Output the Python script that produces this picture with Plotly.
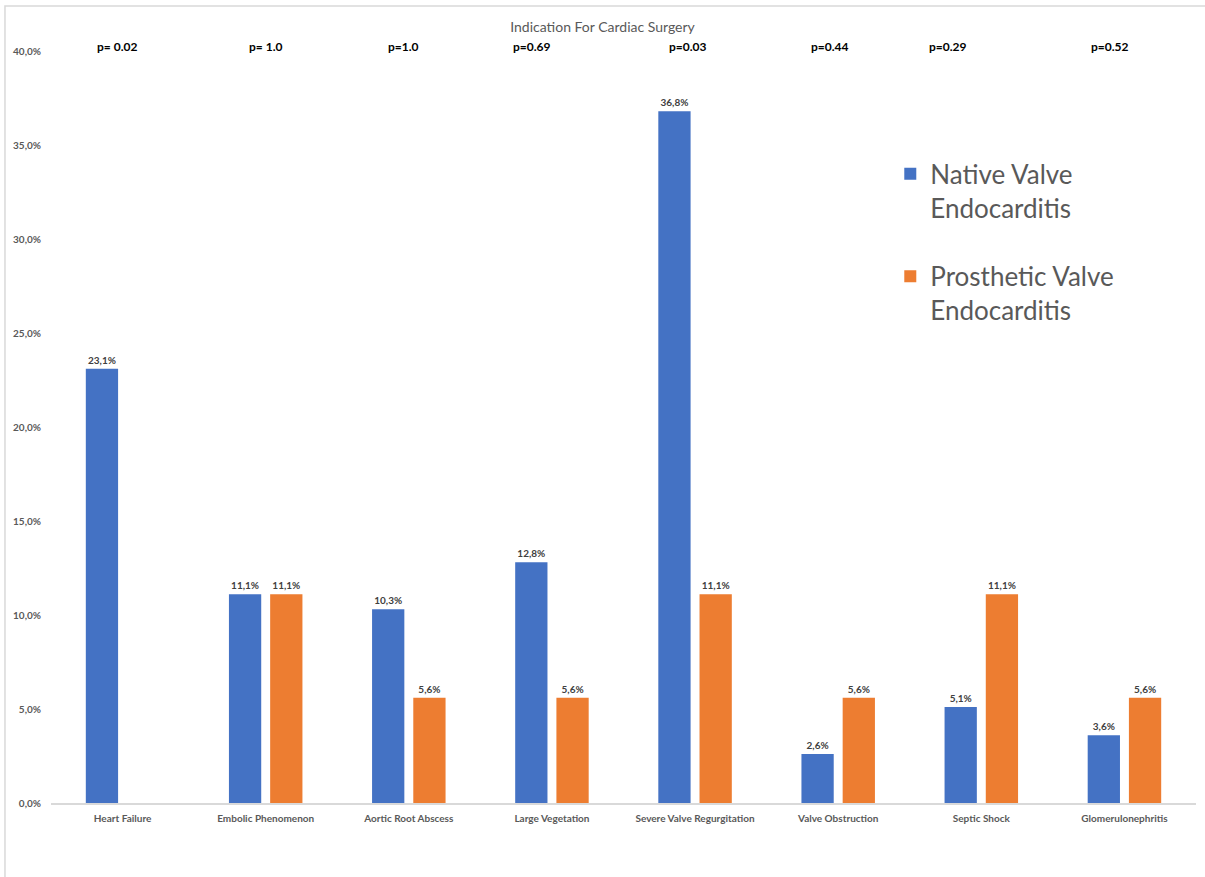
import plotly.graph_objects as go

# Indications for cardiac surgery, share of patients by endocarditis type
categories = [
    "Heart Failure", "Embolic Phenomenon", "Aortic Root Abscess", "Large Vegetation",
    "Severe Valve Regurgitation", "Valve Obstruction", "Septic Shock", "Glomerulonephritis",
]
native_pct = [23.1, 11.1, 10.3, 12.8, 36.8, 2.6, 5.1, 3.6]
prosthetic_pct = [None, 11.1, 5.6, 5.6, 11.1, 5.6, 11.1, 5.6]
p_values = ["p= 0.02", "p= 1.0", "p=1.0", "p=0.69", "p=0.03", "p=0.44", "p=0.29", "p=0.52"]
y_ticks = [0, 5, 10, 15, 20, 25, 30, 35, 40]

# horizontal nudges (in category units) for the p-value labels
p_offsets = [-0.04, 0.0, -0.04, -0.14, -0.05, -0.06, -0.23, -0.10]

BLUE = "#4472C4"
ORANGE = "#ED7D31"
GREY = "#595959"
FONT = "Lato, 'Open Sans', sans-serif"

def frac(vals):
    return [None if v is None else v / 100 for v in vals]

label_font = dict(size=10, color="#404040", family=FONT, weight="bold")

fig = go.Figure()
fig.add_trace(go.Bar(
    x=categories, y=frac(native_pct), name="Native Valve<br>Endocarditis",
    marker=dict(color=BLUE, line=dict(width=0)),
    texttemplate="%{y:.1%}", textposition="outside", textfont=label_font,
    cliponaxis=False, legendgroup="a",
))
fig.add_trace(go.Bar(
    x=categories, y=frac(prosthetic_pct), name="Prosthetic Valve<br>Endocarditis",
    marker=dict(color=ORANGE, line=dict(width=0)),
    texttemplate="%{y:.1%}", textposition="outside", textfont=label_font,
    cliponaxis=False, legendgroup="b",
))

annotations = []
for i, (p, dx) in enumerate(zip(p_values, p_offsets)):
    annotations.append(dict(
        x=i + dx, y=1.006, xref="x", yref="paper", text=p, showarrow=False,
        font=dict(size=12, color="#000000", family=FONT, weight="bold"),
        xanchor="center", yanchor="middle",
    ))

fig.update_layout(
    width=1205, height=877,
    margin=dict(l=51, r=9, t=51, b=74),
    paper_bgcolor="white", plot_bgcolor="white",
    separators=",.",
    font=dict(family=FONT, color=GREY),
    title=dict(text="Indication For Cardiac Surgery", x=0.5, xanchor="center",
               y=0.969, yanchor="middle", font=dict(size=14, color=GREY, family=FONT)),
    barmode="group", bargap=0.424, bargroupgap=0.217,
    showlegend=True,
    legend=dict(x=0.733, y=0.868, xanchor="left", yanchor="top",
                font=dict(size=26, color=GREY, family=FONT),
                tracegroupgap=32, valign="top", bgcolor="rgba(0,0,0,0)"),
    xaxis=dict(showline=True, linecolor="#d9d9d9", linewidth=1.5, ticks="",
               ticklabelstandoff=5,
               tickfont=dict(size=10, color=GREY, family=FONT, weight="bold"),
               showgrid=False, range=[-0.5, 7.5]),
    yaxis=dict(range=[0, 0.40], tickvals=[v / 100 for v in y_ticks], tickformat=".1%",
               showgrid=False, zeroline=False, showline=False, ticks="",
               ticklabelstandoff=9,
               tickfont=dict(size=10, color=GREY, family=FONT, weight="bold")),
    annotations=annotations,
    shapes=[dict(type="rect", xref="paper", yref="paper",
                 x0=-0.0402, x1=1.05, y0=-0.2, y1=1.0598,
                 line=dict(color="#d9d9d9", width=1.5), fillcolor="rgba(0,0,0,0)",
                 layer="below")],
)

fig.write_html("out.html")
